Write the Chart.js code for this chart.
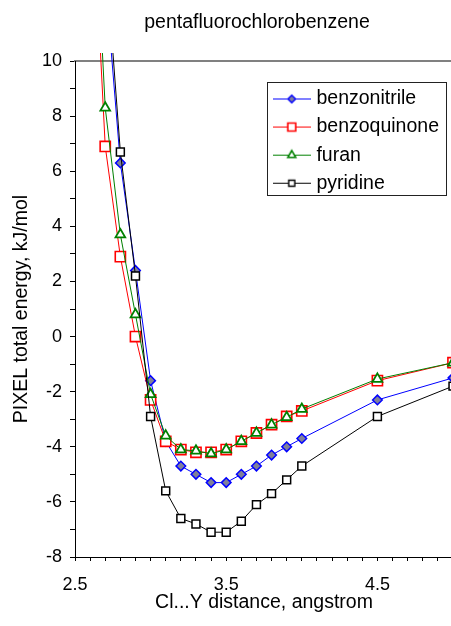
<!DOCTYPE html>
<html><head><meta charset="utf-8">
<script src="https://cdn.jsdelivr.net/npm/chart.js@4"></script>
<style>html,body{margin:0;padding:0;overflow:hidden;background:#fff;width:451px;height:626px}canvas{display:block}</style>
</head><body>
<canvas id="c" width="453" height="626"></canvas>
<script>
const chartTitle = 'pentafluorochlorobenzene';
const xAxisTitle = 'Cl...Y distance, angstrom';
const yAxisTitle = 'PIXEL total energy, kJ/mol';
const distances = [2.6, 2.7, 2.8, 2.9, 3.0, 3.1, 3.2, 3.3, 3.4, 3.5, 3.6, 3.7, 3.8, 3.9, 4.0, 4.5, 5.0];
const seriesNames = ['benzonitrile', 'benzoquinone', 'furan', 'pyridine'];
const benzonitrile = [null, 13.0, 6.3, 2.4, -1.6, -3.8, -4.7, -5.0, -5.3, -5.3, -5.0, -4.7, -4.3, -4.0, -3.7, -2.3, -1.5];
const benzoquinone = [17.7, 6.9, 2.9, 0.0, -2.3, -3.8, -4.1, -4.2, -4.2, -4.1, -3.8, -3.5, -3.2, -2.9, -2.7, -1.6, -0.95];
const furan = [19.0, 8.3, 3.7, 0.8, -2.1, -3.6, -4.1, -4.15, -4.25, -4.1, -3.8, -3.5, -3.2, -2.93, -2.63, -1.54, -0.95];
const pyridine = [null, 14.0, 6.7, 2.2, -2.9, -5.6, -6.6, -6.8, -7.1, -7.1, -6.7, -6.1, -5.7, -5.2, -4.7, -2.9, -1.8];
const xTickLabels = [2.5, 3.5, 4.5];
const yTickLabels = [-8, -6, -4, -2, 0, 2, 4, 6, 8, 10];

const FONT = "'Liberation Sans', Arial, Helvetica, sans-serif";
Chart.defaults.font.family = FONT;
Chart.defaults.font.size = 18;
Chart.defaults.color = '#000';
const TEXT_SIZE = 19.5;

const styles = [
  {color: '#0000ff', pointStyle: 'rectRot', radius: 4.8, fill: '#80809a', bw: 1.5, lRadius: 3.8, lbw: 1.5},
  {color: '#ff0000', pointStyle: 'rect', radius: 7.2, fill: '#ffffff', bw: 1.6, lRadius: 5.6, lbw: 1.6},
  {color: '#008000', pointStyle: 'triangle', radius: 5.6, fill: '#ffffff', bw: 1.8, lRadius: 4.6, lbw: 1.6},
  {color: '#000000', pointStyle: 'rect', radius: 5.6, fill: '#ffffff', bw: 1.5, lRadius: 4.3, lbw: 1.4}
];
const seriesValues = [benzonitrile, benzoquinone, furan, pyridine];

function makeIcon(st) {
  const cv = document.createElement('canvas');
  cv.width = 38; cv.height = 15;
  const ctx = cv.getContext('2d');
  ctx.strokeStyle = st.color; ctx.lineWidth = 1;
  ctx.beginPath(); ctx.moveTo(0, 7.5); ctx.lineTo(38, 7.5); ctx.stroke();
  ctx.fillStyle = st.fill; ctx.strokeStyle = st.color; ctx.lineWidth = st.lbw;
  Chart.helpers.drawPoint(ctx, {pointStyle: st.pointStyle, radius: st.lRadius, borderWidth: st.lbw, rotation: 0}, 19, 7.5);
  return cv;
}
const legendIcons = styles.map(makeIcon);

const datasets = seriesNames.map((name, i) => ({
  label: name,
  data: distances.map((d, j) => ({x: d, y: seriesValues[i][j]})),
  borderColor: styles[i].color,
  borderWidth: 1,
  pointStyle: styles[i].pointStyle,
  pointRadius: styles[i].radius,
  pointBackgroundColor: styles[i].fill,
  pointBorderColor: styles[i].color,
  pointBorderWidth: styles[i].bw,
  tension: 0,
  order: 4 - i,
  clip: {left: 0, top: 8, right: 3, bottom: 0}
}));

const layoutTweaks = {
  id: 'layoutTweaks',
  afterLayout(chart) {
    const tb = chart.titleBlock;
    if (tb) { tb.left = chart.chartArea.left - 14; tb.right = chart.chartArea.right; tb.width = tb.right - tb.left; }
    const lg = chart.legend;
    lg.left = 268.1; lg.top = 80.6; lg.right = 453; lg.bottom = 557;
    lg.width = lg.right - lg.left; lg.height = lg.bottom - lg.top;
  },
  beforeDraw(chart) {
    const ctx = chart.ctx;
    ctx.save();
    ctx.fillStyle = '#fff';
    ctx.fillRect(0, 0, chart.width, chart.height);
    ctx.restore();
  },
  beforeDatasetsDraw(chart) {
    const ctx = chart.ctx;
    ctx.save();
    ctx.strokeStyle = '#222';
    ctx.lineWidth = 1;
    ctx.strokeRect(267.5, 82.5, 179, 113);
    ctx.restore();
  }
};

new Chart(document.getElementById('c'), {
  type: 'line',
  data: {datasets},
  plugins: [layoutTweaks],
  options: {
    responsive: false,
    animation: false,
    events: [],
    layout: {padding: 0, autoPadding: false},
    plugins: {
      tooltip: {enabled: false},
      title: {
        display: true, text: chartTitle, color: '#000',
        font: {size: TEXT_SIZE, weight: 'normal'},
        padding: {top: 11, bottom: 26.6}
      },
      legend: {
        display: true,
        position: 'chartArea',
        align: 'start',
        labels: {
          usePointStyle: true,
          pointStyleWidth: 30,
          padding: 8.6,
          color: '#000',
          font: {size: TEXT_SIZE},
          generateLabels(chart) {
            return chart.data.datasets.map((ds, i) => ({
              text: ds.label, pointStyle: legendIcons[i], datasetIndex: i,
              lineWidth: 0, strokeStyle: 'rgba(0,0,0,0)', fillStyle: 'rgba(0,0,0,0)', hidden: false, fontColor: '#000'
            }));
          }
        }
      }
    },
    scales: {
      x: {
        type: 'linear', position: 'bottom', min: 2.5, max: 5.0,
        afterFit(s) { s.height = 69; s.paddingLeft = 0; s.paddingRight = 0; },
        grid: {display: true, drawOnChartArea: false, drawTicks: true, tickLength: 4, color: '#000', lineWidth: 1},
        border: {display: true, color: '#000', width: 1},
        ticks: {
          stepSize: 0.1, autoSkip: false, maxRotation: 0, padding: 13, color: '#000',
          callback: (v) => xTickLabels.some(t => Math.abs(t - v) < 1e-6) ? Number(v).toFixed(1) : ''
        },
        title: {display: true, text: xAxisTitle, color: '#000', font: {size: TEXT_SIZE}, padding: {top: 0, bottom: 11.3}}
      },
      xTop: {
        type: 'linear', position: 'top', min: 2.5, max: 5.0,
        afterFit(s) { s.height = 0; s.paddingLeft = 0; s.paddingRight = 0; },
        grid: {display: false},
        border: {display: true, color: '#808080', width: 2},
        ticks: {display: false}
      },
      y: {
        type: 'linear', position: 'left', min: -8, max: 10,
        afterFit(s) { s.width = 75; },
        grid: {display: true, drawOnChartArea: false, drawTicks: true, tickLength: 5, color: '#000', lineWidth: 1},
        border: {display: true, color: '#000', width: 1},
        ticks: {
          stepSize: 1, autoSkip: false, padding: 8, color: '#000',
          callback: (v) => yTickLabels.includes(v) ? String(v) : ''
        },
        title: {display: true, text: yAxisTitle, color: '#000', font: {size: TEXT_SIZE}, padding: {top: 10.3, bottom: 0}}
      }
    }
  }
});
</script>
</body></html>
